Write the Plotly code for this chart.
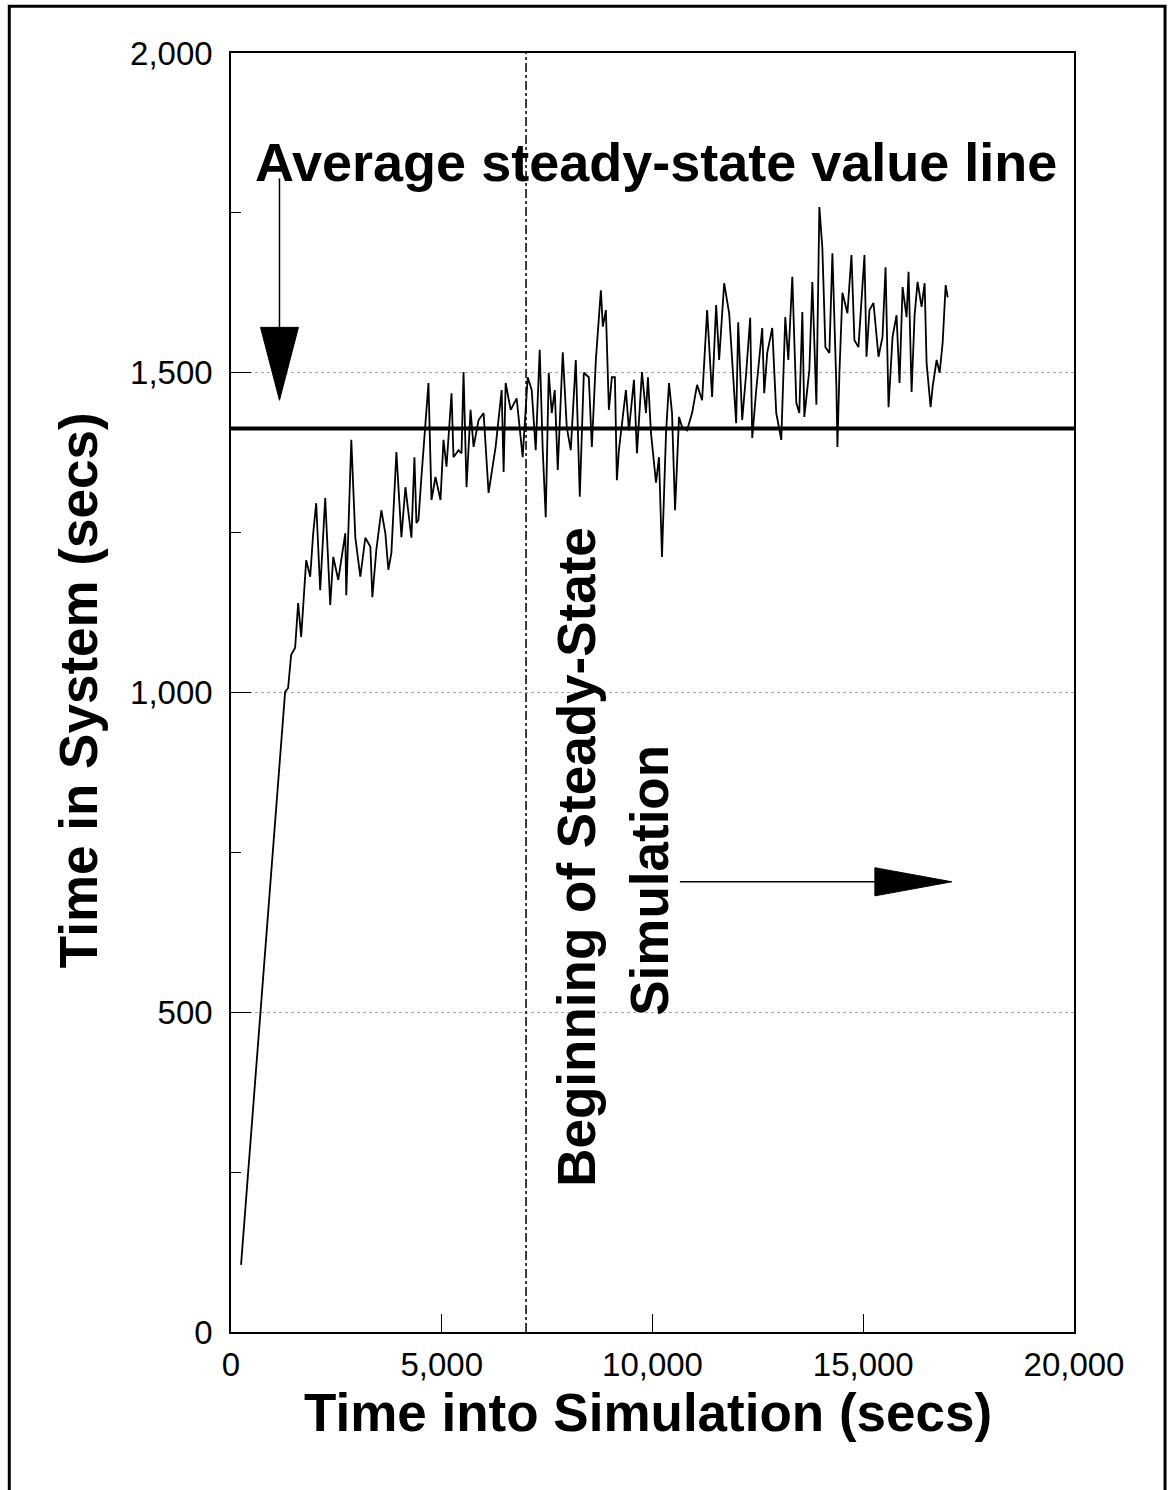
import plotly.graph_objects as go

# Simulated time-in-system trace (secs) against simulation clock (secs)
time_s = [
    238, 1284, 1355, 1427, 1522, 1593, 1665, 1784, 1879, 1950, 2021, 2116, 2235, 2354,
    2426, 2545, 2711, 2735, 2854, 2949, 3068, 3187, 3306, 3354, 3448, 3567, 3662, 3733,
    3805, 3924, 4043, 4138, 4280, 4352, 4399,
    4447, 4518, 4685, 4756, 4851, 4970, 5041, 5113, 5232, 5279, 5398, 5469, 5517, 5588,
    5683, 5755, 5874, 5993, 6111, 6278, 6421, 6468, 6516, 6635, 6777, 6920, 7039, 7134,
    7229, 7324, 7396, 7467, 7538, 7610, 7681, 7752, 7871, 7966, 8061, 8180, 8275, 8371,
    8489, 8561, 8656, 8775, 8822, 8894, 8965, 9036, 9108, 9155,
    9203, 9369, 9441, 9560, 9631, 9750, 9845, 9892, 9964, 10083, 10154, 10225, 10321,
    10392, 10463, 10535, 10630, 10701, 10820, 10939, 11058, 11177, 11296, 11414, 11510,
    11581, 11700, 11819, 11985, 12033, 12128, 12223, 12318, 12366, 12461, 12603, 12651,
    12722, 12841, 12936, 13055, 13150, 13222, 13317, 13412, 13483, 13555, 13602, 13721,
    13792, 13888, 13959, 14030, 14102, 14197, 14268, 14363, 14387, 14435, 14506, 14625,
    14720, 14791, 14886, 15029, 15077, 15148, 15243, 15314, 15362, 15457, 15529, 15600,
    15695, 15790, 15861, 15933, 16028, 16075, 16147, 16218, 16289, 16384, 16456, 16503,
    16598, 16646, 16741, 16812, 16884, 16955, 17003,
]
time_in_system = [
    105, 1001, 1007, 1059, 1070, 1140, 1087, 1207, 1181, 1249, 1296, 1160, 1304, 1137,
    1212, 1176, 1249, 1152, 1395, 1243, 1181, 1242, 1228, 1149, 1223, 1285, 1249, 1192,
    1218, 1376, 1243, 1321, 1242, 1368, 1265,
    1270, 1337, 1484, 1301, 1337, 1301, 1395, 1353, 1468, 1368, 1379, 1374, 1501, 1321,
    1442, 1384, 1426, 1437, 1312, 1384, 1473, 1345, 1484, 1442, 1460, 1368, 1493, 1473,
    1379, 1536, 1379, 1274, 1500, 1437, 1473, 1348, 1532, 1415, 1379, 1520, 1306, 1500,
    1493, 1384, 1520, 1629, 1572, 1598, 1442, 1493, 1493, 1332,
    1379, 1473, 1410, 1489, 1374, 1501, 1437, 1493, 1406, 1328, 1368, 1212, 1406,
    1484, 1437, 1285, 1431, 1415, 1410, 1437, 1481, 1457, 1598, 1462, 1606,
    1520, 1640, 1593, 1421, 1579, 1426, 1500, 1586, 1398, 1473, 1570, 1468,
    1531, 1570, 1437, 1395, 1587, 1520, 1650, 1453, 1437, 1595, 1431, 1504,
    1642, 1450, 1759, 1695, 1540, 1531, 1687, 1478, 1384, 1500, 1625, 1593,
    1684, 1551, 1540, 1684, 1525, 1598, 1609, 1551, 1525, 1556, 1665, 1446,
    1556, 1590, 1484, 1634, 1587, 1658, 1470, 1590, 1642, 1603, 1640, 1515,
    1446, 1478, 1520, 1500, 1547, 1637, 1618,
]

# Reference markers
avg_steady_state = 1413      # average steady-state value
steady_state_start = 7000    # beginning of steady-state period

x_ticks = [0, 5000, 10000, 15000, 20000]
x_tick_text = ["0", "5,000", "10,000", "15,000", "20,000"]
y_ticks = [0, 500, 1000, 1500, 2000]
y_tick_text = ["0", "500", "1,000", "1,500", "2,000"]

FONT = "Liberation Sans, Arial, Helvetica, sans-serif"

fig = go.Figure()

fig.add_trace(go.Scatter(
    x=time_s, y=time_in_system, mode="lines",
    line=dict(color="black", width=1.8), showlegend=False, hoverinfo="skip",
))

# Average steady-state line
fig.add_shape(type="line", xref="x", yref="y", x0=0, x1=20000,
              y0=avg_steady_state, y1=avg_steady_state,
              line=dict(color="black", width=4))

# Start of steady-state period
fig.add_shape(type="line", xref="x", yref="y", x0=steady_state_start, x1=steady_state_start,
              y0=0, y1=2000, line=dict(color="black", width=1.5, dash="dashdot"))

# Downward arrow pointing to the average line
ax_down = 1150
fig.add_shape(type="line", xref="x", yref="y", x0=ax_down, x1=ax_down, y0=1804, y1=1570,
              line=dict(color="black", width=1.5))
fig.add_shape(type="path", xref="x", yref="y",
              path=f"M {ax_down-450},1571 L {ax_down+450},1571 L {ax_down},1457 Z",
              fillcolor="black", line=dict(color="black", width=1))

# Rightward arrow for steady-state simulation period
ay_right = 704
fig.add_shape(type="line", xref="x", yref="y", x0=10650, x1=15300, y0=ay_right, y1=ay_right,
              line=dict(color="black", width=1.5))
fig.add_shape(type="path", xref="x", yref="y",
              path=f"M 15276,{ay_right-22} L 15276,{ay_right+22} L 17102,{ay_right} Z",
              fillcolor="black", line=dict(color="black", width=1))

# Outer frame of the figure
fig.add_shape(type="rect", xref="paper", yref="paper",
              x0=-0.263, x1=1.108, y0=-0.2, y1=1.0365,
              line=dict(color="black", width=3), fillcolor="rgba(0,0,0,0)")

ann_font = dict(family=FONT, size=53, color="black")
fig.add_annotation(x=10081, y=1830, xref="x", yref="y", showarrow=False,
                   text="<b>Average steady-state value line</b>",
                   font=dict(family=FONT, size=54, color="black"),
                   xanchor="center", yanchor="middle")
fig.add_annotation(x=8207, y=743, xref="x", yref="y", showarrow=False, textangle=-90,
                   text="<b>Beginning of Steady-State</b>", font=ann_font,
                   xanchor="center", yanchor="middle")
fig.add_annotation(x=9939, y=707, xref="x", yref="y", showarrow=False, textangle=-90,
                   text="<b>Simulation</b>", font=ann_font,
                   xanchor="center", yanchor="middle")

# Axis titles
fig.add_annotation(x=0.495, y=-0.0633, xref="paper", yref="paper", showarrow=False,
                   text="<b>Time into Simulation (secs)</b>", font=ann_font,
                   xanchor="center", yanchor="middle")
fig.add_annotation(x=-0.18, y=0.502, xref="paper", yref="paper", showarrow=False,
                   textangle=-90, text="<b>Time in System (secs)</b>", font=ann_font,
                   xanchor="center", yanchor="middle")

fig.update_layout(
    width=1171, height=1490,
    margin=dict(l=231, r=97, t=53, b=158),
    paper_bgcolor="white", plot_bgcolor="white",
    font=dict(family=FONT, color="black"),
    showlegend=False,
)
fig.update_xaxes(
    range=[0, 20000], tickvals=x_ticks, ticktext=x_tick_text,
    tickfont=dict(size=33, family=FONT, color="black"),
    ticks="inside", ticklen=18, tickwidth=1, tickcolor="black",
    showline=True, linecolor="black", linewidth=1.5, mirror=True,
    showgrid=False, zeroline=False, ticklabelstandoff=3,
)
fig.update_yaxes(
    range=[0, 2000], tickvals=y_ticks, ticktext=y_tick_text,
    tickfont=dict(size=33, family=FONT, color="black"),
    ticks="inside", ticklen=20, tickwidth=1, tickcolor="black",
    minor=dict(ticks="inside", ticklen=10, tickcolor="black", dtick=250, tick0=0, showgrid=False),
    showline=True, linecolor="black", linewidth=1.5, mirror=True,
    showgrid=True, gridcolor="#a8a8a8", gridwidth=1, griddash="dot",
    zeroline=False, ticklabelstandoff=10,
)

fig.write_html("out.html")
